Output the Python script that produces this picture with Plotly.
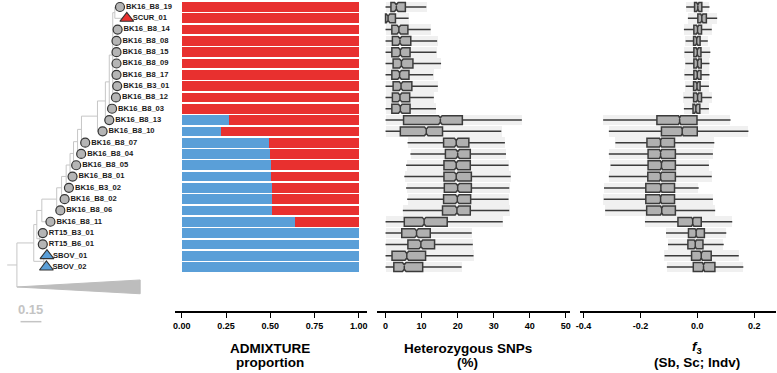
import plotly.graph_objects as go

# ---------------- data ----------------
samples = ["BK16_B8_19", "SCUR_01", "BK16_B8_14", "BK16_B8_08", "BK16_B8_15", "BK16_B8_09",
           "BK16_B8_17", "BK16_B3_01", "BK16_B8_12", "BK16_B8_03", "BK16_B8_13", "BK16_B8_10",
           "BK16_B8_07", "BK16_B8_04", "BK16_B8_05", "BK16_B8_01", "BK16_B3_02", "BK16_B8_02",
           "BK16_B8_06", "BK16_B8_11", "RT15_B3_01", "RT15_B6_01", "SBOV_01", "SBOV_02"]
sample_type = ["ind", "SCUR"] + ["ind"] * 20 + ["SBOV", "SBOV"]

# ADMIXTURE proportion of the S. boulardii (blue) component
sb_prop = [0, 0, 0, 0, 0, 0, 0, 0, 0, 0, 0.264, 0.217, 0.492, 0.495, 0.503, 0.503,
           0.505, 0.508, 0.506, 0.64, 1, 1, 1, 1]

# Heterozygous SNPs (%) box statistics
het_q1 = [1.5, 0, 1.75, 1.9, 1.75, 2.1, 1.75, 2.1, 1.9, 1.75, 5.0, 4.1, 16.1, 16.6, 16.2, 16.2,
          16.3, 16.1, 15.8, 5.2, 4.5, 6.2, 1.8, 2.3]
het_med = [3.0, 0.7, 3.7, 4.0, 4.1, 4.4, 3.9, 4.3, 4.0, 4.1, 15.2, 11.3, 19.6, 20.0, 19.6, 19.6,
           20.0, 19.9, 19.8, 10.7, 8.6, 9.8, 5.9, 5.2]
het_q3 = [5.5, 2.75, 6.2, 7.0, 6.8, 7.6, 6.5, 7.3, 6.7, 6.8, 21.3, 15.8, 23.1, 23.5, 23.5, 23.8,
          23.8, 23.6, 23.5, 17.1, 12.4, 13.6, 11.1, 10.3]
het_lo = [0, 0, 0, 0, 0, 0, 0, 0, 0, 0, 0, 0, 6.1, 6.9, 5.7, 5.2, 5.7, 6.0, 4.8, 0, 0, 0, 0, 0]
het_hi = [11.3, 6.4, 12.5, 14.3, 14.1, 15.4, 13.2, 14.5, 13.4, 14.0, 37.8, 32.1, 33.1, 33.4,
          34.1, 34.7, 34.3, 34.1, 34.3, 32.5, 23.9, 24.2, 24.4, 21.1]

# f3 (Sb, Sc; Indv) box statistics
f3_q1 = [-0.0095, 0.002, -0.012, -0.013, -0.012, -0.012, -0.012, -0.013, -0.013, -0.015,
         -0.142, -0.126, -0.177, -0.173, -0.173, -0.174, -0.181, -0.181, -0.178, -0.068,
         -0.031, -0.033, -0.020, -0.014]
f3_med = [0.002, 0.016, 0.001, -0.002, 0.0, 0.001, 0.0, -0.001, 0.001, -0.005, -0.062, -0.053,
          -0.129, -0.129, -0.126, -0.129, -0.128, -0.129, -0.125, -0.016, -0.004, -0.007,
          0.014, 0.022]
f3_q3 = [0.016, 0.032, 0.015, 0.010, 0.013, 0.014, 0.013, 0.010, 0.015, 0.009, -0.001, 0.0,
         -0.080, -0.077, -0.077, -0.077, -0.080, -0.080, -0.077, 0.014, 0.025, 0.020, 0.049,
         0.062]
f3_lo = [-0.039, -0.033, -0.047, -0.041, -0.045, -0.042, -0.045, -0.041, -0.048, -0.047,
         -0.331, -0.311, -0.288, -0.311, -0.305, -0.311, -0.328, -0.329, -0.324, -0.184,
         -0.110, -0.103, -0.115, -0.107]
f3_hi = [0.043, 0.070, 0.051, 0.037, 0.046, 0.043, 0.043, 0.041, 0.051, 0.041, 0.117, 0.18,
         0.060, 0.055, 0.041, 0.051, 0.005, 0.055, 0.063, 0.123, 0.102, 0.093, 0.146, 0.162]

# Tree: tip depths (substitutions / site) and internal nodes (depth, children)
tip_depth = [0.741, 0.79, 0.724, 0.716, 0.716, 0.716, 0.716, 0.721, 0.712, 0.684, 0.664,
             0.616, 0.491, 0.462, 0.426, 0.400, 0.374, 0.343, 0.312, 0.241, 0.186, 0.186,
             0.216, 0.212]
internal_nodes = {
    "O": (0.704, ["BK16_B8_19", "SCUR_01"]),
    "N": (0.689, ["O", "BK16_B8_14", "BK16_B8_08", "BK16_B8_15", "BK16_B8_09",
                  "BK16_B8_17", "BK16_B3_01", "BK16_B8_12"]),
    "M": (0.664, ["N", "BK16_B8_03"]),
    "L": (0.636, ["M", "BK16_B8_13"]),
    "K": (0.579, ["L", "BK16_B8_10"]),
    "J": (0.464, ["K", "BK16_B8_07"]),
    "I": (0.436, ["J", "BK16_B8_04"]),
    "H": (0.407, ["I", "BK16_B8_05"]),
    "G": (0.382, ["H", "BK16_B8_01"]),
    "F": (0.354, ["G", "BK16_B3_02"]),
    "E": (0.321, ["F", "BK16_B8_02"]),
    "D": (0.286, ["E", "BK16_B8_06"]),
    "C": (0.179, ["D", "BK16_B8_11"]),
    "RT": (0.164, ["RT15_B3_01", "RT15_B6_01"]),
    "B": (0.143, ["C", "RT"]),
    "S": (0.193, ["SBOV_01", "SBOV_02"]),
    "A": (0.121, ["B", "S"]),
    "ROOT": (0.0, ["A", "COLLAPSED"]),
}
collapsed_depth = 0.886
collapsed_row = 24.77
scale_bar = 0.15

# ---------------- styling ----------------
RED = "#e8302f"
BLUE = "#5a9fd8"
TREE = "#c6c6c6"
FONT = "Liberation Sans, Arial, sans-serif"
rows = list(range(len(samples)))

fig = go.Figure()

# ---- tree ----
tip_x = dict(zip(samples, tip_depth))
tip_y = dict(zip(samples, rows))
node_y = {}


def get_y(n):
    if n in tip_y:
        return tip_y[n]
    if n == "COLLAPSED":
        return collapsed_row
    if n not in node_y:
        ys = [get_y(c) for c in internal_nodes[n][1]]
        node_y[n] = (min(ys) + max(ys)) / 2
    return node_y[n]


def get_x(n):
    if n in tip_x:
        return tip_x[n]
    if n == "COLLAPSED":
        return None
    return internal_nodes[n][0]


lx, ly = [], []
for name, (d, ch) in internal_nodes.items():
    ys = [get_y(c) for c in ch]
    lx += [d, d, None]
    ly += [min(ys), max(ys), None]
    for c in ch:
        cx = get_x(c)
        if cx is None:
            continue
        lx += [d, cx, None]
        ly += [get_y(c), get_y(c), None]
root_y = get_y("ROOT")
lx += [-0.07, 0.0, None]
ly += [root_y, root_y, None]

fig.add_trace(go.Scatter(x=[0.0, collapsed_depth, collapsed_depth, 0.0],
                         y=[collapsed_row, collapsed_row - 0.62, collapsed_row + 0.6, collapsed_row],
                         fill="toself", fillcolor="#bdbdbd", mode="lines",
                         line=dict(color="#bdbdbd", width=1), xaxis="x4", yaxis="y4",
                         hoverinfo="skip", showlegend=False))
fig.add_trace(go.Scatter(x=lx, y=ly, mode="lines", line=dict(color=TREE, width=1),
                         xaxis="x4", yaxis="y4", hoverinfo="skip", showlegend=False))

# scale bar
fig.add_trace(go.Scatter(x=[0.026, 0.026 + scale_bar], y=[27.84, 27.84], mode="lines",
                         line=dict(color="#c4c4c4", width=1.5), xaxis="x4", yaxis="y4",
                         hoverinfo="skip", showlegend=False))
fig.add_annotation(x=0.026 + scale_bar / 2, y=26.8, xref="x4", yref="y4", text="<b>0.15</b>",
                   showarrow=False, font=dict(family=FONT, size=13, color="#c4c4c4"))

ind_i = [i for i, t in enumerate(sample_type) if t == "ind"]
fig.add_trace(go.Scatter(x=[tip_depth[i] for i in ind_i], y=[rows[i] for i in ind_i],
                         mode="markers", xaxis="x4", yaxis="y4", hoverinfo="skip",
                         marker=dict(symbol="circle", size=9, color="#b5b5b5",
                                     line=dict(color="#333333", width=1.2)),
                         showlegend=False))
for t, col in (("SCUR", RED), ("SBOV", BLUE)):
    idx = [i for i, s in enumerate(sample_type) if s == t]
    fig.add_trace(go.Scatter(x=[tip_depth[i] for i in idx], y=[rows[i] for i in idx],
                             mode="markers", xaxis="x4", yaxis="y4", hoverinfo="skip",
                             marker=dict(symbol="triangle-up", size=12, color=col,
                                         line=dict(color="#333333", width=1.1)),
                             showlegend=False))
fig.add_trace(go.Scatter(x=[d + 0.043 for d in tip_depth], y=rows, mode="text", text=samples,
                         textposition="middle right", xaxis="x4", yaxis="y4",
                         textfont=dict(family=FONT, size=7.6, color="#1a1a1a", weight="bold"),
                         hoverinfo="skip", showlegend=False))

# ---- ADMIXTURE bars ----
fig.add_trace(go.Bar(y=rows, x=sb_prop, orientation="h", marker=dict(color=BLUE, line=dict(width=0)),
                     width=0.86, xaxis="x", yaxis="y", showlegend=False))
fig.add_trace(go.Bar(y=rows, x=[1 - p for p in sb_prop], base=sb_prop, orientation="h",
                     marker=dict(color=RED, line=dict(width=0)), width=0.86,
                     xaxis="x", yaxis="y", showlegend=False))

# ---- box plots ----
box_style = dict(orientation="h", notched=True, width=0.78, whiskerwidth=0,
                 fillcolor="rgba(168,168,168,0.9)", line=dict(color="#3b3b3b", width=1.5),
                 boxpoints=False, showlegend=False, yaxis="y")
# faint spread haze behind boxes
fig.add_trace(go.Bar(y=rows, x=[h - l for h, l in zip(het_hi, het_lo)], base=het_lo,
                     orientation="h", width=0.95, marker=dict(color="rgba(200,200,200,0.28)",
                                                              line=dict(width=0)),
                     xaxis="x2", yaxis="y", hoverinfo="skip", showlegend=False))
fig.add_trace(go.Bar(y=rows, x=[h - l for h, l in zip(f3_hi, f3_lo)], base=f3_lo,
                     orientation="h", width=0.95, marker=dict(color="rgba(200,200,200,0.28)",
                                                              line=dict(width=0)),
                     xaxis="x3", yaxis="y", hoverinfo="skip", showlegend=False))
fig.add_trace(go.Box(y=rows, q1=het_q1, median=het_med, q3=het_q3, lowerfence=het_lo,
                     upperfence=het_hi, notchspan=[0.5] * len(rows), xaxis="x2", **box_style))
fig.add_trace(go.Box(y=rows, q1=f3_q1, median=f3_med, q3=f3_q3, lowerfence=f3_lo,
                     upperfence=f3_hi, notchspan=[0.004] * len(rows), xaxis="x3", **box_style))

W, H = 777, 373
axis_common = dict(showline=True, linecolor="black", linewidth=1.5, ticks="outside",
                   ticklen=5, tickwidth=1.3, tickcolor="black", showgrid=False, zeroline=False,
                   tickfont=dict(family=FONT, size=9, color="black", weight="bold"),
                   anchor="y", fixedrange=True)
fig.update_layout(
    width=W, height=H, margin=dict(l=0, r=0, t=0, b=0, pad=0),
    plot_bgcolor="white", paper_bgcolor="white", barmode="overlay", bargap=0,
    xaxis=dict(domain=[171.7 / W, 365 / W], range=[-0.041, 1.045],
               tickvals=[0, 0.25, 0.5, 0.75, 1.0],
               ticktext=["0.00", "0.25", "0.50", "0.75", "1.00"], **axis_common),
    xaxis2=dict(domain=[375 / W, 570 / W], range=[-2.48, 51.24],
                tickvals=[0, 10, 20, 30, 40, 50], **axis_common),
    xaxis3=dict(domain=[580 / W, 1.0], range=[-0.4115, 0.2769],
                tickvals=[-0.4, -0.2, 0.0, 0.2], ticktext=["-0.4", "-0.2", "0.0", "0.2"],
                **axis_common),
    yaxis=dict(domain=[62 / H, 1.0], range=[26.89, -0.619], visible=False, fixedrange=True),
    xaxis4=dict(domain=[0, 171 / W], range=[-0.0929, 1.1286], visible=False, anchor="y4",
                fixedrange=True),
    yaxis4=dict(domain=[0, 1], range=[32.38, -0.619], visible=False, anchor="x4",
                fixedrange=True),
)

titles = [
    (268, 348, "<b>ADMIXTURE</b>"), (268, 362, "<b>proportion</b>"),
    (467, 348, "<b>Heterozygous SNPs</b>"), (467, 362, "<b>(%)</b>"),
    (697, 347, "<b><i>f</i><sub>3</sub></b>"), (697, 362, "<b>(Sb, Sc; Indv)</b>"),
]
for x, y, t in titles:
    fig.add_annotation(x=x / W, y=1 - y / H, xref="paper", yref="paper", text=t,
                       showarrow=False, xanchor="center", yanchor="middle",
                       font=dict(family=FONT, size=13.5, color="black"))

fig.write_html("out.html", post_script="document.body.style.margin='0';",
               config={"displayModeBar": False})
